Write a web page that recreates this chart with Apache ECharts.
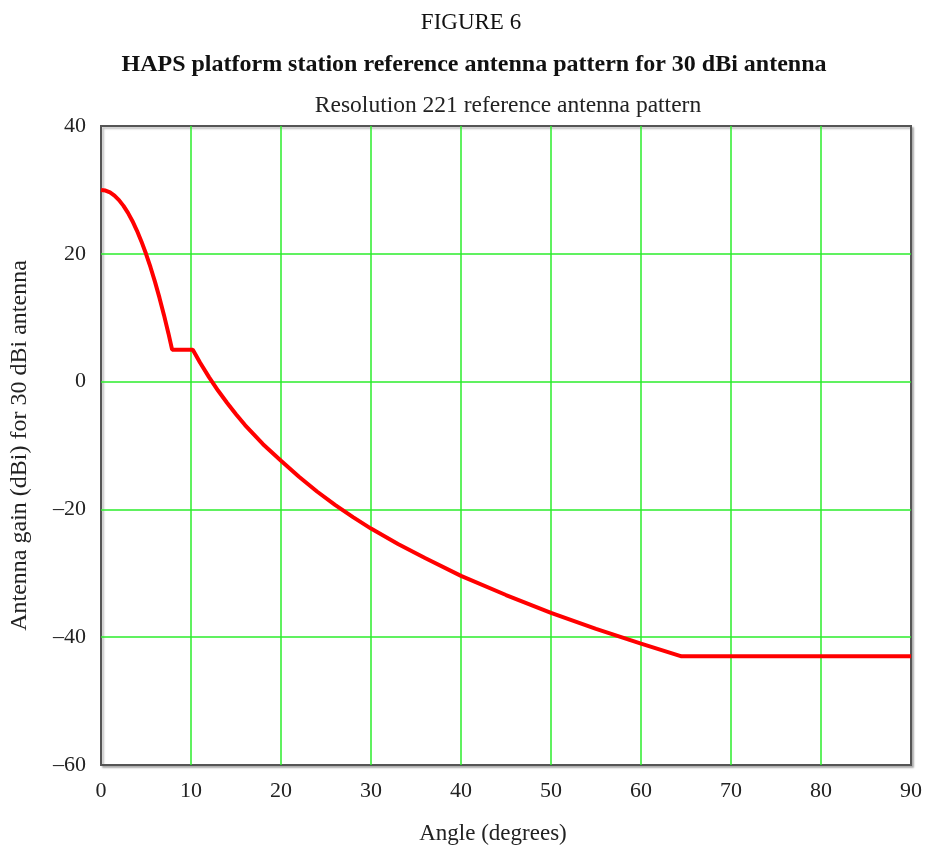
<!DOCTYPE html>
<html>
<head>
<meta charset="utf-8">
<script src="https://cdn.jsdelivr.net/npm/echarts@6/dist/echarts.min.js"></script>
<style>
  html, body { margin: 0; padding: 0; background: #fff; }
  #chart { width: 925px; height: 850px; }
</style>
</head>
<body>
<div id="chart"></div>
<script>
// angle (degrees) and gain (dBi)
const angles = [0, 0.5, 1, 1.5, 2, 2.5, 3, 3.5, 4, 4.5, 5, 5.5, 6, 6.5, 7, 7.5, 7.9, 10.2,
  11, 12, 13, 14, 15, 16, 18, 20, 22, 24, 26, 28, 30, 33, 36, 40, 45, 50, 55, 60, 64.5, 70, 80, 90];
const gains = [30, 29.9, 29.6, 29.1, 28.4, 27.5, 26.4, 25.1, 23.6, 21.9, 20, 17.9, 15.6, 13.1, 10.4, 7.5, 5, 5,
  3.0, 0.7, -1.4, -3.3, -5.1, -6.8, -9.8, -12.4, -14.9, -17.2, -19.3, -21.2, -23.0, -25.4, -27.6, -30.4, -33.4, -36.2, -38.7, -41.0, -43, -43, -43, -43];

const xTicks = [0, 10, 20, 30, 40, 50, 60, 70, 80, 90];
const yTicks = [-60, -40, -20, 0, 20, 40];

const FONT = "'Liberation Serif', 'Times New Roman', serif";
const GREEN = "#2bed2b";

const chart = echarts.init(document.getElementById("chart"));
const dash = (v) => (v < 0 ? "\u2013" + Math.abs(v) : String(v));

chart.setOption({
  animation: false,
  backgroundColor: "#fff",
  title: [
    { text: "FIGURE 6", left: 466, top: 6, textAlign: "center",
      textStyle: { fontFamily: FONT, fontSize: 23, fontWeight: "normal", color: "#111" } },
    { text: "HAPS platform station reference antenna pattern for 30 dBi antenna", left: 469, top: 48, textAlign: "center",
      textStyle: { fontFamily: FONT, fontSize: 24, fontWeight: "bold", color: "#111" } },
    { text: "Resolution 221 reference antenna pattern", left: 503, top: 89, textAlign: "center",
      textStyle: { fontFamily: FONT, fontSize: 23.5, fontWeight: "normal", color: "#222" } },
  ],
  grid: {
    left: 101, right: 13, top: 126, bottom: 83,
    show: true, backgroundColor: "#fff",
    borderColor: "#555", borderWidth: 2,
    shadowColor: "rgba(0,0,0,0.25)", shadowBlur: 2, shadowOffsetX: 2, shadowOffsetY: 2,
  },
  xAxis: {
    type: "value", min: xTicks[0], max: xTicks[xTicks.length - 1], interval: 10,
    name: "Angle (degrees)", nameLocation: "middle", nameGap: 57,
    nameTextStyle: { fontFamily: FONT, fontSize: 23, color: "#222", padding: [0, 26, 0, 0] },
    axisLine: { show: false }, axisTick: { show: false },
    axisLabel: { fontFamily: FONT, fontSize: 22, color: "#222", margin: 15, formatter: dash },
    splitLine: { show: true, showMinLine: false, showMaxLine: false, lineStyle: { color: GREEN, width: 1.5 } },
  },
  yAxis: {
    type: "value", min: yTicks[0], max: yTicks[yTicks.length - 1], interval: 20,
    name: "Antenna gain (dBi) for 30 dBi antenna", nameLocation: "middle", nameGap: 69,
    nameTextStyle: { fontFamily: FONT, fontSize: 24, color: "#222" },
    axisLine: { show: false }, axisTick: { show: false },
    axisLabel: { fontFamily: FONT, fontSize: 22, color: "#222", margin: 15, formatter: dash },
    splitLine: { show: true, showMinLine: false, showMaxLine: false, lineStyle: { color: GREEN, width: 1.5 } },
  },
  series: [{
    type: "line",
    data: angles.map((a, i) => [a, gains[i]]),
    showSymbol: false,
    lineStyle: { color: "#ff0000", width: 4 },
    z: 5,
  }],
});
</script>
</body>
</html>
